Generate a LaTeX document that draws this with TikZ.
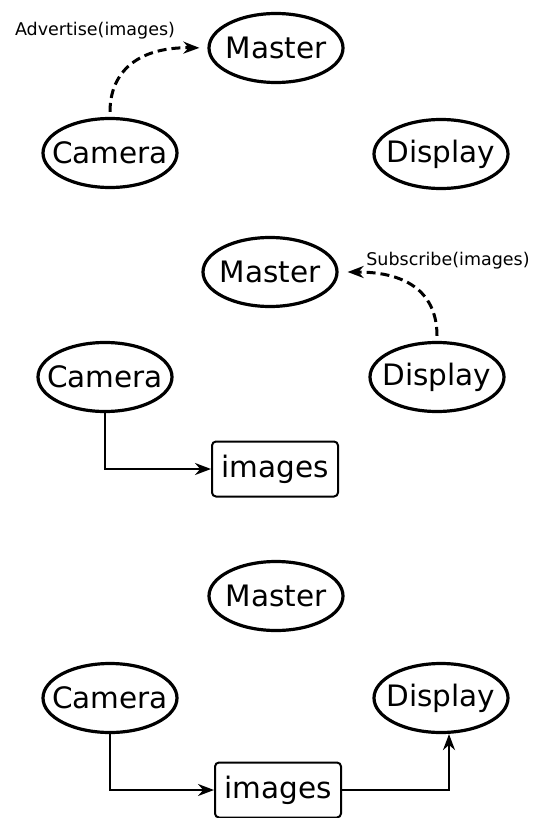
\documentclass[tikz,border=0pt]{standalone}
\usepackage{fontspec}
\setmainfont{DejaVu Sans}
\usetikzlibrary{shapes.geometric,arrows.meta}
\tikzset{
  proc/.style={ellipse, draw, line width=3.2pt, minimum width=134pt, minimum height=69pt, inner xsep=-30pt, inner ysep=-10pt, font=\fontsize{29.5}{32}\selectfont},
  topic/.style={rectangle, rounded corners=4pt, draw, line width=2pt, minimum width=126pt, minimum height=55pt, inner sep=0pt, font=\fontsize{29.5}{32}\selectfont},
  lbl/.style={font=\fontsize{17.5}{20}\selectfont, inner sep=0pt},
  req/.style={dash pattern=on 9pt off 5pt, line width=3pt, -{Stealth[length=16pt,width=12pt]}},
  flow/.style={line width=2.2pt, -{Stealth[length=16pt,width=12pt]}}
}
\begin{document}
\begin{tikzpicture}[x=1pt,y=-1pt]
\useasboundingbox (0,0) rectangle (535,818);
% Panel 1
\node[proc] (m1) at (276,48) {Master};
\node[proc] (c1) at (110,153) {Camera};
\node[proc] (d1) at (441,154) {Display};
\node[lbl] (a1) at (95,31) {Advertise(images)};
\draw[req, shorten <=5pt, shorten >=8pt] (c1.north) .. controls (110,70) and (140,47) .. (m1.west);
% Panel 2
\node[proc] (m2) at (270,272) {Master};
\node[proc] (c2) at (105,377) {Camera};
\node[proc] (d2) at (437,377) {Display};
\node[topic] (i2) at (275,469) {images};
\node[lbl] (s2) at (448,261) {Subscribe(images)};
\draw[req, shorten <=5pt, shorten >=9pt] (d2.north) .. controls (437,295) and (410,272) .. (m2.east);
\draw[flow] (c2.south) |- (i2.west);
% Panel 3
\node[proc] (m3) at (276,596) {Master};
\node[proc] (c3) at (110,698) {Camera};
\node[proc] (d3) at (441,698) {Display};
\node[topic] (i3) at (278,790) {images};
\draw[flow] (c3.south) |- (i3.west);
\draw[flow] (i3.east) -| ([xshift=8pt]d3.south);
\end{tikzpicture}
\end{document}
